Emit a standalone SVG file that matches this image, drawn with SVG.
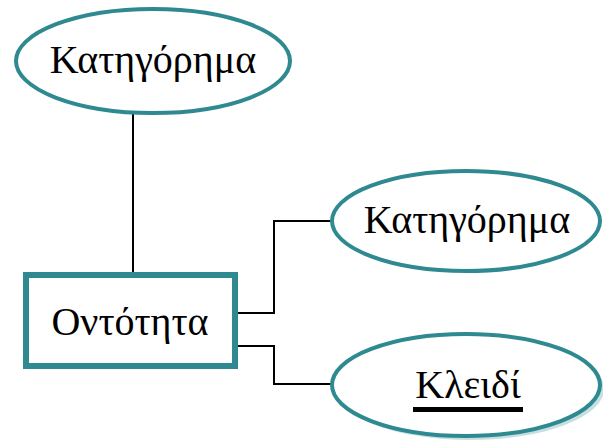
<svg xmlns="http://www.w3.org/2000/svg" width="603" height="446" viewBox="0 0 603 446">
<defs>
<style>
.shape{fill:#ffffff;stroke:#2e8a90;stroke-width:4}
.box{fill:#ffffff;stroke:#2e8a90;stroke-width:6}
.lbl{font-family:"Liberation Serif","DejaVu Serif",serif;font-size:40px;fill:#000000;text-anchor:middle}
.conn{fill:none;stroke:#000000;stroke-width:2}
</style>
</defs>
<rect width="603" height="446" fill="#ffffff"/>
<g id="connectors">
<line class="conn" x1="133" y1="113" x2="133" y2="273"/>
<polyline class="conn" points="238,313 274,313 274,221 333,221"/>
<polyline class="conn" points="238,346 274,346 274,384 333,384"/>
</g>
<g id="attr1">
<ellipse class="shape" cx="153" cy="61" rx="137" ry="52"/>
<text class="lbl" x="153" y="73">Κατηγόρημα</text>
</g>
<g id="entity">
<rect class="box" x="26" y="275" width="209" height="91"/>
<text class="lbl" x="130" y="335">Οντότητα</text>
</g>
<g id="attr2">
<ellipse class="shape" cx="466" cy="221" rx="134" ry="50"/>
<text class="lbl" x="467" y="233">Κατηγόρημα</text>
</g>
<g id="key">
<ellipse cx="470" cy="389" rx="134" ry="51" fill="#c6e0e2"/>
<ellipse class="shape" cx="466" cy="385" rx="134" ry="51"/>
<text class="lbl" x="468" y="398">Κλειδί</text>
<rect x="413" y="407" width="110" height="5" fill="#000000"/>
</g>
</svg>
